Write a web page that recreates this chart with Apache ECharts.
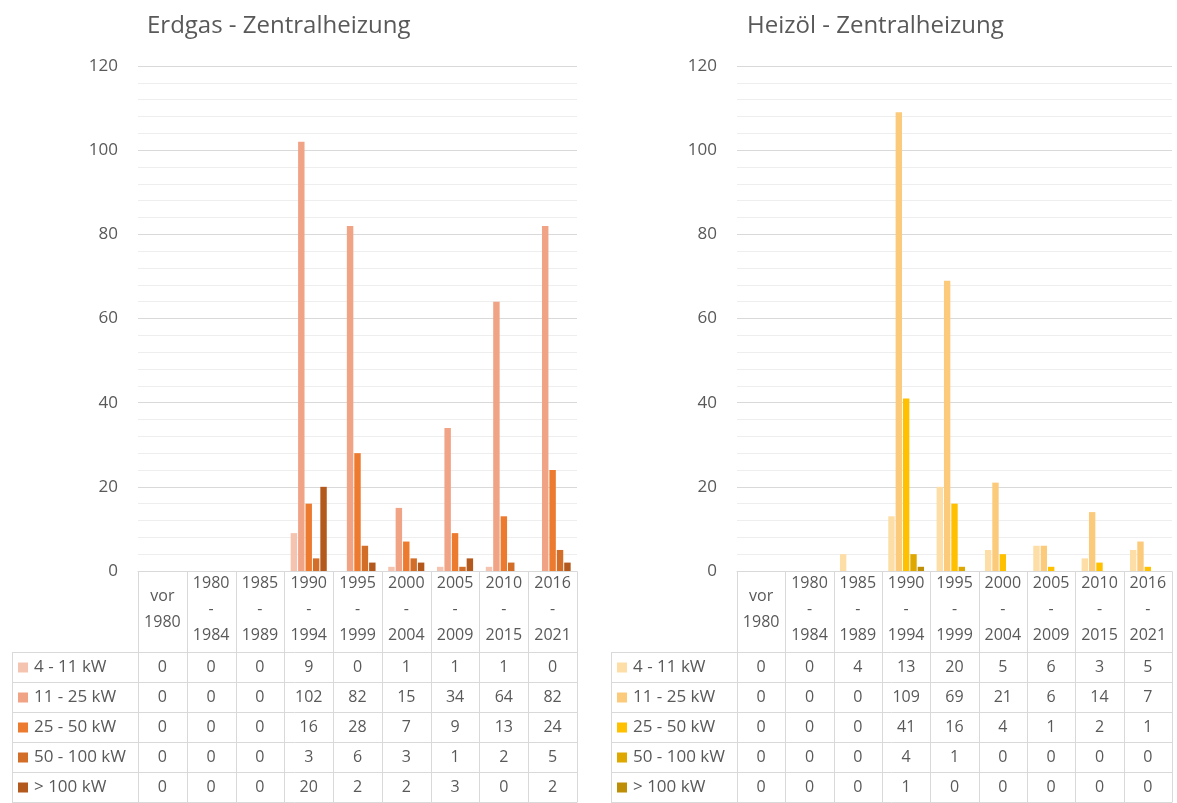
<!DOCTYPE html>
<html>
<head>
<meta charset="utf-8">
<script src="https://cdn.jsdelivr.net/npm/echarts@6/dist/echarts.min.js"></script>
<style>
html,body{margin:0;padding:0;background:#fff;}
#c{width:1177px;height:803px;}
</style>
</head>
<body>
<div id="c"></div>
<script>
// ---- data ----
const categories = [['vor','1980'],['1980','-','1984'],['1985','-','1989'],['1990','-','1994'],['1995','-','1999'],['2000','-','2004'],['2005','-','2009'],['2010','-','2015'],['2016','-','2021']];
const seriesNames = ['4 - 11 kW','11 - 25 kW','25 - 50 kW','50 - 100 kW','> 100 kW'];
const yTicks = [0,20,40,60,80,100,120];

const titleGas = 'Erdgas - Zentralheizung';
const gas4_11   = [0,0,0,9,0,1,1,1,0];
const gas11_25  = [0,0,0,102,82,15,34,64,82];
const gas25_50  = [0,0,0,16,28,7,9,13,24];
const gas50_100 = [0,0,0,3,6,3,1,2,5];
const gas100    = [0,0,0,20,2,2,3,0,2];

const titleOil = 'Heizöl - Zentralheizung';
const oil4_11   = [0,0,4,13,20,5,6,3,5];
const oil11_25  = [0,0,0,109,69,21,6,14,7];
const oil25_50  = [0,0,0,41,16,4,1,2,1];
const oil50_100 = [0,0,0,4,1,0,0,0,0];
const oil100    = [0,0,0,1,0,0,0,0,0];

const gasColors = ['#F5C4B0','#F1A386','#ED7B2F','#D26E28','#B4591E'];
const oilColors = ['#FDDEA6','#FBCB7B','#FFC000','#DEA800','#BE8E06'];

// ---- chart ----
const FONT = '"Open Sans", "Noto Sans", sans-serif';
const TXT = '#595959';
const gasData = [gas4_11, gas11_25, gas25_50, gas50_100, gas100];
const oilData = [oil4_11, oil11_25, oil25_50, oil50_100, oil100];
const catKeys = categories.map(c => c.join(' '));

const chart = echarts.init(document.getElementById('c'), null, {renderer:'canvas'});

function yAxis(gi){
  return {
    type:'value', gridIndex:gi, min:yTicks[0], max:yTicks[yTicks.length-1], interval:20,
    axisLine:{show:false}, axisTick:{show:false},
    axisLabel:{color:TXT, fontSize:17, fontFamily:FONT, margin:20},
    splitLine:{lineStyle:{color:'#d9d9d9', width:1}},
    minorTick:{show:false, splitNumber:5},
    minorSplitLine:{show:true, lineStyle:{color:'#eeeeee', width:1}}
  };
}
function xAxis(gi){
  return {
    type:'category', gridIndex:gi, data:catKeys,
    axisLabel:{show:false}, axisTick:{show:false},
    axisLine:{show:true, lineStyle:{color:'#d9d9d9'}}
  };
}
function makeSeries(gi, data, colors){
  return data.map((d,i)=>({
    name: seriesNames[i] + '_' + gi, type:'bar', xAxisIndex:gi, yAxisIndex:gi,
    data:d, barGap:'15%', barCategoryGap:'26%',
    itemStyle:{color:colors[i]}, silent:true
  }));
}

chart.setOption({
  animation:false,
  backgroundColor:'#fff',
  title:[
    {text:titleGas, left:142, top:9, textStyle:{color:TXT, fontSize:24, fontWeight:'normal', fontFamily:FONT}},
    {text:titleOil, left:742, top:9, textStyle:{color:TXT, fontSize:24, fontWeight:'normal', fontFamily:FONT}}
  ],
  grid:[
    {left:138, right:600, top:66, bottom:232},
    {left:737, right:5, top:66, bottom:232}
  ],
  xAxis:[xAxis(0), xAxis(1)],
  yAxis:[yAxis(0), yAxis(1)],
  series:[...makeSeries(0, gasData, gasColors), ...makeSeries(1, oilData, oilColors)]
});

// ---- data table below each plot ----
function buildTable(ai, data, colors){
  const els = [];
  const c0 = chart.convertToPixel({xAxisIndex:ai}, 0);
  const c1 = chart.convertToPixel({xAxisIndex:ai}, 1);
  const bw = c1 - c0;
  const left = c0 - bw/2;
  const right = left + categories.length*bw;
  const axisY = Math.round(chart.convertToPixel({yAxisIndex:ai}, 0)) + 0.5;
  const headerH = 81, rowH = 30, legendW = 126;
  const tLeft = left - legendW;
  const hBottom = axisY + headerH;
  const bottom = hBottom + rowH*seriesNames.length;
  const lc = '#d9d9d9';
  const line = (x1,y1,x2,y2)=>els.push({type:'line', shape:{x1,y1,x2,y2}, style:{stroke:lc, lineWidth:1}, silent:true, z:10});
  // horizontal
  for(let r=0;r<=seriesNames.length;r++){
    const y = hBottom + r*rowH;
    line(tLeft, y, right, y);
  }
  // vertical
  for(let k=0;k<=categories.length;k++){
    const x = Math.round(left + k*bw)+0.5;
    line(x, axisY, x, bottom);
  }
  line(tLeft+0.5, hBottom, tLeft+0.5, bottom);
  // header text
  categories.forEach((cat,k)=>{
    els.push({type:'text', x:left + (k+0.5)*bw, y:axisY + headerH/2 - 3,
      style:{text:cat.join('\n'), fill:TXT, font:'16px '+FONT, align:'center', verticalAlign:'middle', lineHeight:26},
      silent:true, z:11});
  });
  // rows
  seriesNames.forEach((n,r)=>{
    const cy = hBottom + r*rowH + rowH/2;
    els.push({type:'rect', shape:{x:tLeft+6, y:cy-5, width:10, height:10}, style:{fill:colors[r]}, silent:true, z:11});
    els.push({type:'text', x:tLeft+22, y:cy, style:{text:n, fill:TXT, font:'17px '+FONT, align:'left', verticalAlign:'middle'}, silent:true, z:11});
    data[r].forEach((v,k)=>{
      els.push({type:'text', x:left + (k+0.5)*bw, y:cy, style:{text:String(v), fill:TXT, font:'16px '+FONT, align:'center', verticalAlign:'middle'}, silent:true, z:11});
    });
  });
  return els;
}

chart.setOption({graphic:{elements:[...buildTable(0, gasData, gasColors), ...buildTable(1, oilData, oilColors)]}});
</script>
</body>
</html>
